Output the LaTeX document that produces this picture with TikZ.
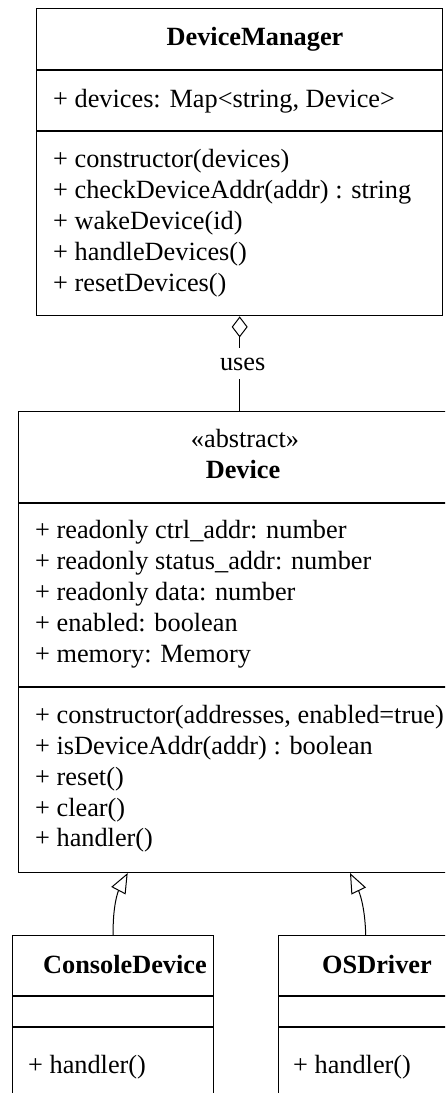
\documentclass[tikz,border=0pt]{standalone}
\usepackage{fontspec}
\setmainfont{Liberation Serif}
\usetikzlibrary{arrows.meta}
\begin{document}
\begin{tikzpicture}[x=1pt,y=-1pt,
  classbox/.style={draw, line width=1.4pt, inner sep=0pt, anchor=north west},
  sep/.style={line width=1.4pt},
  txt/.style={font=\fontsize{26.3}{31}\selectfont, inner sep=0pt},
  member/.style={txt, anchor=base west},
  classname/.style={txt, anchor=base, font=\fontsize{26.3}{31}\selectfont\bfseries},
  stereo/.style={txt, anchor=base},
  link/.style={line width=1pt},
  aggr/.style={link, {Diamond[open, length=21pt, width=16pt]}-},
  inherit/.style={link, -{Triangle[open, length=20pt, width=16pt]}}]
\useasboundingbox (0,0) rectangle (445,1093);
\clip (0,0) rectangle (445,1093);

% DeviceManager
\node[classbox, minimum width=406pt, minimum height=307pt] (dm) at (36,8) {};
\draw[sep] (36,70) -- (442,70);
\draw[sep] (36,131) -- (442,131);
\node[classname] (dmname) at (255,45) {DeviceManager};
\node[member] (dma1) at (53,107) {+ devices: Map<string, Device>};
\node[member] (dmm1) at (53,167) {+ constructor(devices)};
\node[member] (dmm2) at (53,198) {+ checkDeviceAddr(addr) : string};
\node[member] (dmm3) at (53,229) {+ wakeDevice(id)};
\node[member] (dmm4) at (53,260) {+ handleDevices()};
\node[member] (dmm5) at (53,291) {+ resetDevices()};

% Device
\node[classbox, minimum width=452pt, minimum height=461pt] (dev) at (18,411) {};
\draw[sep] (18,503) -- (470,503);
\draw[sep] (18,687) -- (470,687);
\node[stereo] (devst) at (245,447.5) {«abstract»};
\node[classname] (devname) at (243,478) {Device};
\node[member] (da1) at (35,538.5) {+ readonly ctrl\_addr: number};
\node[member] (da2) at (35,569.5) {+ readonly status\_addr: number};
\node[member] (da3) at (35,600.5) {+ readonly data: number};
\node[member] (da4) at (35,631.5) {+ enabled: boolean};
\node[member] (da5) at (35,662.5) {+ memory: Memory};
\node[member] (dm1) at (35,723.3) {+ constructor(addresses, enabled=true)};
\node[member] (dm2) at (35,754.2) {+ isDeviceAddr(addr) : boolean};
\node[member] (dm3) at (35,785.1) {+ reset()};
\node[member] (dm4) at (35,816) {+ clear()};
\node[member] (dm5) at (35,846.8) {+ handler()};

% ConsoleDevice
\node[classbox, minimum width=201pt, minimum height=170pt] (cd) at (12,935) {};
\draw[sep] (12,996) -- (213,996);
\draw[sep] (12,1027) -- (213,1027);
\node[classname] (cdname) at (125,973) {ConsoleDevice};
\node[member] (cdm1) at (28,1073) {+ handler()};

% OSDriver
\node[classbox, minimum width=174pt, minimum height=170pt] (os) at (278,935) {};
\draw[sep] (278,996) -- (452,996);
\draw[sep] (278,1027) -- (452,1027);
\node[classname] (osname) at (377,973) {OSDriver};
\node[member] (osm1) at (293,1073) {+ handler()};

% aggregation
\draw[aggr] (dm.south) -- node[txt, fill=white, text height=13pt, text depth=0pt,
  inner ysep=9pt, inner xsep=3pt, xshift=3pt] (uses) {uses} (dm.south |- dev.north);

% generalisations
\coordinate (t1) at (127.7,873);
\coordinate (t2) at (350,873);
\draw[inherit] (cd.north) .. controls (112.5,905) and (118.5,890.5) .. (t1);
\draw[inherit] (os.north) .. controls (365,905) and (358.8,891.2) .. (t2);
\end{tikzpicture}
\end{document}
